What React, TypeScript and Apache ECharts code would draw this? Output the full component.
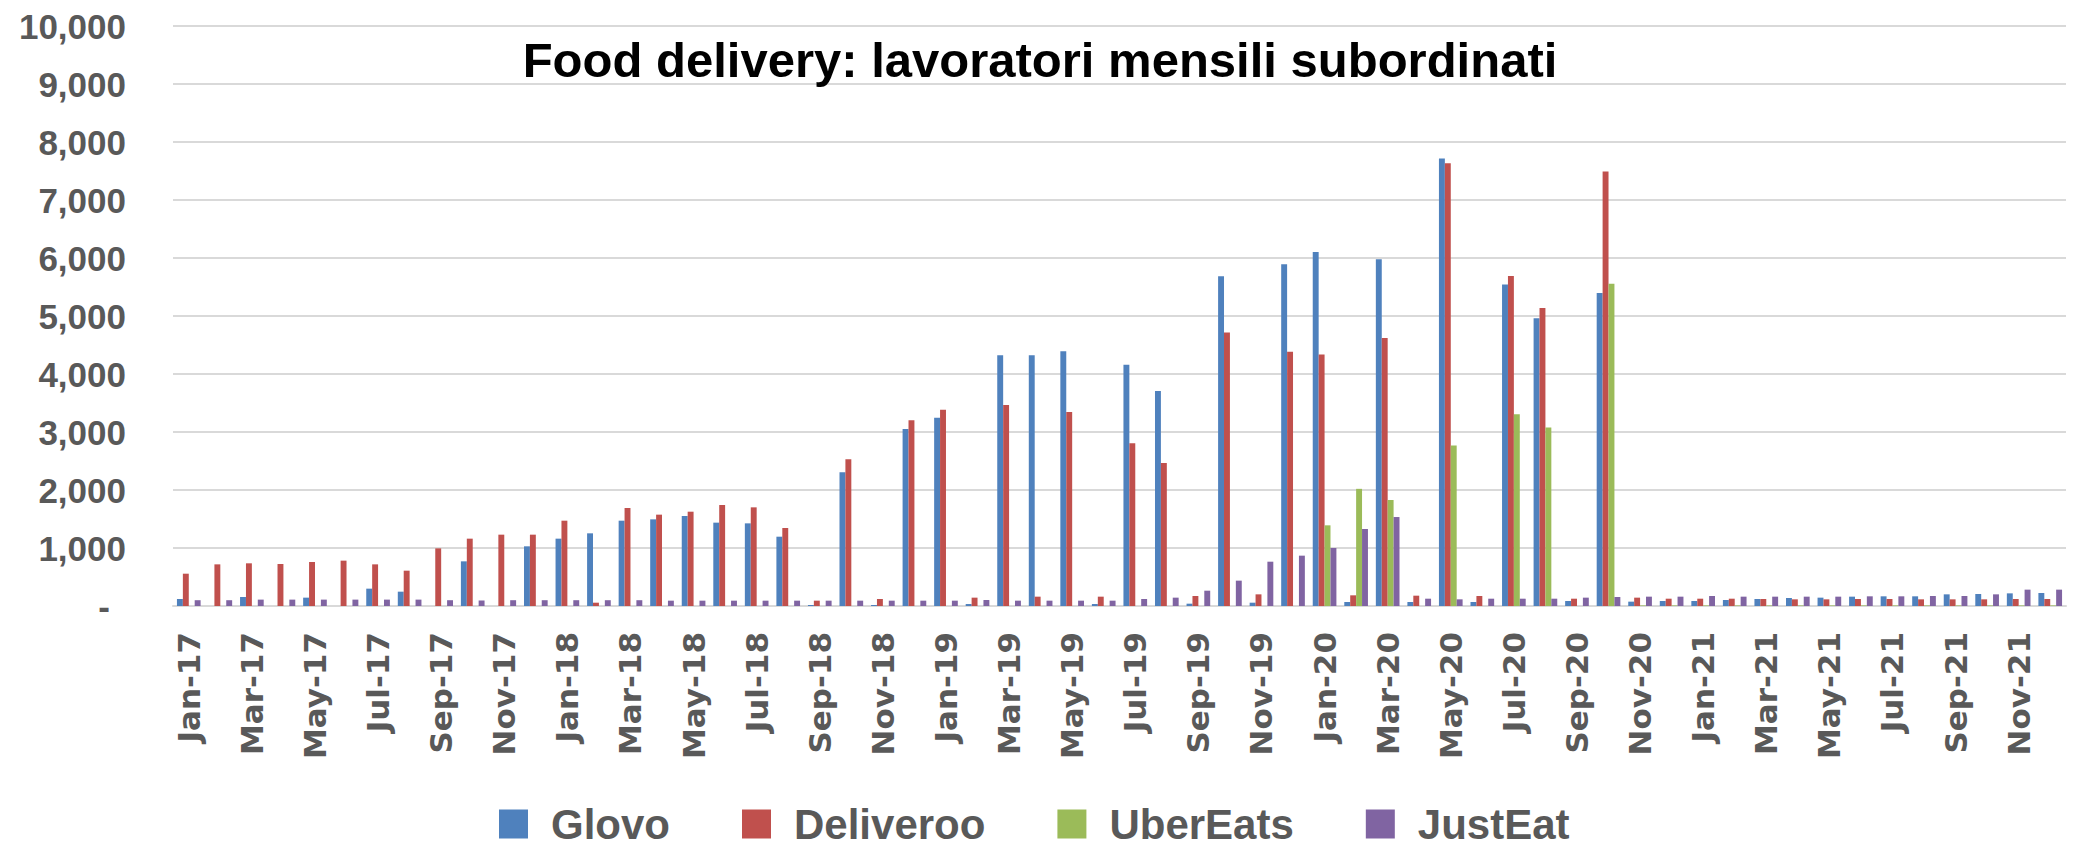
import React, { useEffect, useRef } from 'react';
import * as echarts from 'echarts';

const MONTHS = ['Jan', 'Feb', 'Mar', 'Apr', 'May', 'Jun', 'Jul', 'Aug', 'Sep', 'Oct', 'Nov', 'Dec'];
const YEARS = ['17', '18', '19', '20', '21'];
const categories = YEARS.flatMap((y) => MONTHS.map((m) => `${m}-${y}`));

const TITLE = 'Food delivery: lavoratori mensili subordinati';
const SERIES_NAMES = ['Glovo', 'Deliveroo', 'UberEats', 'JustEat'];
const COLORS = ['#4F81BD', '#C0504D', '#9BBB59', '#8064A2'];

const glovo = [
  121, 0, 155, 0, 144, 0, 299, 247, 0, 770, 0, 1029,
  1161, 1253, 1471, 1494, 1552, 1437, 1425, 1195, 17, 2305, 17, 3052,
  3247, 34, 4322, 4322, 4391, 34, 4161, 3707, 40, 5686, 57, 5894,
  6104, 69, 5977, 69, 7716, 69, 5545, 4960, 86, 5395, 75, 86,
  86, 103, 121, 138, 144, 161, 167, 167, 201, 207, 218, 224,
];
const deliveroo = [
  557, 718, 736, 724, 759, 782, 718, 609, 994, 1161, 1230, 1230,
  1471, 57, 1690, 1575, 1626, 1741, 1701, 1345, 92, 2529, 121, 3201,
  3385, 144, 3466, 161, 3345, 161, 2805, 2466, 172, 4717, 201, 4384,
  4336, 184, 4620, 178, 7635, 172, 5689, 5138, 126, 7491, 144, 126,
  126, 126, 121, 115, 115, 121, 121, 115, 115, 115, 121, 121,
];
const ubereats = [
  0, 0, 0, 0, 0, 0, 0, 0, 0, 0, 0, 0,
  0, 0, 0, 0, 0, 0, 0, 0, 0, 0, 0, 0,
  0, 0, 0, 0, 0, 0, 0, 0, 0, 0, 0, 0,
  1391, 2020, 1828, 0, 2766, 0, 3306, 3076, 0, 5557, 10, 10,
  10, 10, 10, 10, 10, 10, 10, 10, 10, 10, 10, 10,
];
const justeat = [
  100, 100, 110, 110, 110, 110, 110, 110, 100, 95, 100, 100,
  100, 100, 100, 92, 92, 92, 92, 92, 92, 92, 92, 92,
  92, 103, 92, 92, 92, 92, 121, 144, 264, 437, 764, 868,
  1000, 1328, 1534, 126, 115, 126, 126, 126, 144, 155, 161, 161,
  172, 161, 161, 161, 161, 167, 167, 172, 172, 201, 282, 282,
];

const Y_MIN = 0;
const Y_MAX = 10000;
const Y_STEP = 1000;

export default function App() {
  const ref = useRef<HTMLDivElement>(null);

  useEffect(() => {
    if (!ref.current) return;
    const chart = echarts.init(ref.current, undefined, { renderer: 'svg' });
    const gray = '#595959';
    const seriesData = [glovo, deliveroo, ubereats, justeat];
    chart.setOption({
      animation: false,
      backgroundColor: '#ffffff',
      title: {
        text: TITLE,
        left: 'center',
        top: 30,
        textStyle: {
          fontFamily: 'Liberation Sans',
          fontWeight: 'bold',
          fontSize: 49,
          color: '#000000',
        },
      },
      legend: {
        data: SERIES_NAMES,
        left: 494,
        top: 798,
        icon: 'rect',
        itemWidth: 29,
        itemHeight: 29,
        itemGap: 72,
        textStyle: {
          fontFamily: 'Liberation Sans',
          fontWeight: 'bold',
          fontSize: 42,
          lineHeight: 42,
          color: gray,
          padding: [0, 0, 0, 18],
        },
      },
      grid: { left: 173, right: 14, top: 26, bottom: 240, containLabel: false },
      xAxis: {
        type: 'category',
        data: categories,
        axisLine: { lineStyle: { color: '#d9d9d9', width: 2 } },
        axisTick: { show: false },
        axisLabel: {
          interval: 1,
          rotate: 90,
          margin: 26,
          fontFamily: 'DejaVu Sans',
          fontWeight: 'bold',
          fontSize: 31,
          color: gray,
        },
      },
      yAxis: {
        type: 'value',
        min: Y_MIN,
        max: Y_MAX,
        interval: Y_STEP,
        axisLine: { show: false },
        axisTick: { show: false },
        splitLine: { lineStyle: { color: '#d9d9d9', width: 2 } },
        axisLabel: {
          margin: 47,
          fontFamily: 'Liberation Sans',
          fontWeight: 'bold',
          fontSize: 35,
          color: gray,
          formatter: (v: number) => (v === 0 ? '{d|-}' : v.toLocaleString('en-US')),
          rich: {
            d: {
              fontFamily: 'Liberation Sans',
              fontWeight: 'bold',
              fontSize: 35,
              color: gray,
              padding: [0, 16, 0, 0],
            },
          },
        },
      },
      series: SERIES_NAMES.map((name, i) => ({
        name,
        type: 'bar',
        data: seriesData[i],
        barGap: '0%',
        barCategoryGap: '25%',
        itemStyle: { color: COLORS[i] },
      })),
    });
    return () => chart.dispose();
  }, []);

  return (
    <div
      ref={ref}
      style={{ position: 'fixed', left: 0, top: 0, width: 2080, height: 846, background: '#fff' }}
    />
  );
}
